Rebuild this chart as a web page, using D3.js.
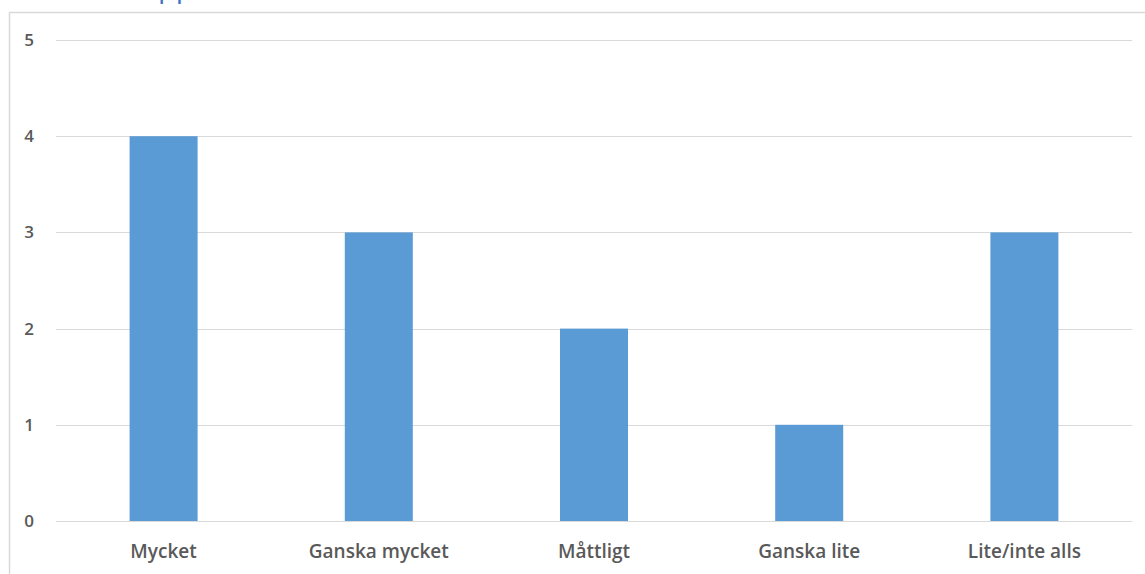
<!DOCTYPE html>
<html>
<head>
<meta charset="utf-8">
<script src="https://cdn.jsdelivr.net/npm/d3@7"></script>
<style>
  html, body { margin: 0; padding: 0; background: #fff; }
  svg { display: block; }
</style>
</head>
<body>
<svg id="chart" width="1145" height="574"></svg>
<script>
// Answer categories and response counts
const categories = ["Mycket", "Ganska mycket", "Måttligt", "Ganska lite", "Lite/inte alls"];
const counts = [4, 3, 2, 1, 3];
const yTicks = [0, 1, 2, 3, 4, 5];

const svg = d3.select("#chart");
const font = "'Open Sans', Lato, 'DejaVu Sans', sans-serif";

// Plot area
const plotLeft = 56, plotRight = 1132, plotTop = 40, plotBottom = 521;

// Chart frame (left and top edges visible)
svg.append("line").attr("x1", 9.5).attr("x2", 9.5).attr("y1", 12).attr("y2", 574)
  .attr("stroke", "#d9d9d9").attr("stroke-width", 1.5);
svg.append("line").attr("x1", 9).attr("x2", 1145).attr("y1", 12.5).attr("y2", 12.5)
  .attr("stroke", "#d9d9d9").attr("stroke-width", 1.5);

// Title, sitting above the frame
svg.append("text").attr("x", 158).attr("y", -3)
  .attr("font-family", font).attr("font-size", 29).attr("fill", "#4472c4")
  .text("pp");

const x = d3.scaleBand().domain(categories).range([plotLeft, plotRight])
  .paddingInner(0.684).paddingOuter(0.342);
const y = d3.scaleLinear().domain([0, 5]).range([plotBottom, plotTop]);

// Gridlines
svg.append("g").selectAll("line").data(yTicks).join("line")
  .attr("x1", plotLeft).attr("x2", plotRight)
  .attr("y1", d => Math.round(y(d)) + 0.5).attr("y2", d => Math.round(y(d)) + 0.5)
  .attr("stroke", "#d9d9d9").attr("stroke-width", 1.2);

// Bars
svg.append("g").selectAll("rect").data(counts).join("rect")
  .attr("x", (d, i) => x(categories[i]))
  .attr("width", x.bandwidth())
  .attr("y", d => y(d))
  .attr("height", d => y(0) - y(d))
  .attr("fill", "#5b9bd5");

// Y axis labels
const yAxis = d3.axisLeft(y).tickValues(yTicks).tickSize(0).tickPadding(0).tickFormat(d3.format("d"));
const gy = svg.append("g").attr("transform", "translate(29,0)").call(yAxis);
gy.select(".domain").remove();
gy.selectAll("text").attr("font-family", font).attr("font-size", 17)
  .attr("font-weight", 600).attr("fill", "#595959").attr("text-anchor", "middle");

// X axis labels
const xAxis = d3.axisBottom(x).tickSize(0).tickPadding(0);
const gx = svg.append("g").attr("transform", `translate(0,${plotBottom + 23})`).call(xAxis);
gx.select(".domain").remove();
gx.selectAll("text").attr("font-family", font).attr("font-size", 19)
  .attr("font-weight", 600).attr("fill", "#595959");
</script>
</body>
</html>
